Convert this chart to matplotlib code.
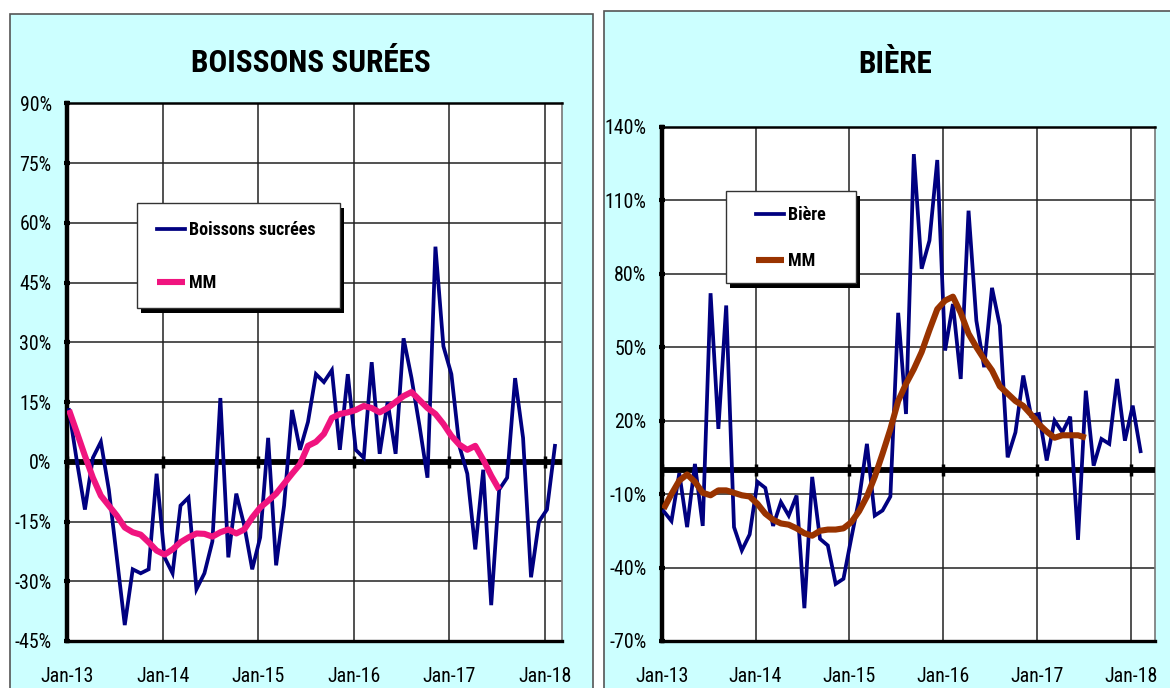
import numpy as np
import matplotlib
matplotlib.use("Agg")
import matplotlib.pyplot as plt
from matplotlib.patches import Rectangle
from matplotlib.ticker import FuncFormatter, FixedLocator

plt.rcParams['font.family'] = ['Liberation Sans Narrow', 'Roboto Condensed',
                               'Open Sans Condensed', 'Liberation Sans', 'DejaVu Sans']

# ---------------- data ----------------
year_labels = ["Jan-13", "Jan-14", "Jan-15", "Jan-16", "Jan-17", "Jan-18"]

boissons = [13, 0, -12, 1, 5, -7, -24, -41, -27, -28, -27, -3, -24, -28, -11, -9,
            -32, -28, -20, 16, -24, -8, -16, -27, -19, 6, -26, -11, 13, 3, 10, 22,
            20, 23, 3, 22, 3, 1, 25, 2, 15, 2, 31, 21, 9, -4, 54, 29, 22, 4, -3,
            -22, -2, -36, -7, -4, 21, 6, -29, -15, -12, 4]
boissons_mm = [13, 7.3, 1.5, -4, -8.5, -11, -13.5, -16.5, -17.7, -18.3, -20.2, -22.3,
               -23.3, -22, -20.2, -19, -18, -18.1, -18.8, -17.7, -17, -18, -17, -14,
               -11.5, -9.8, -8, -5.5, -3, -0.6, 4, 5, 7, 11, 12, 12.4, 13, 14, 13.5,
               12.4, 13.5, 15, 16.5, 17.5, 15.5, 13.5, 12, 9.5, 6.5, 4.3, 3, 4, 0.5,
               -3.5, -7]

biere = [-17, -21, -1.5, -23.5, 2.3, -23, 72, 16.6, 67, -23.5, -33, -26.5, -5, -7.5,
         -23, -13.3, -18.8, -10.6, -56.6, -3, -28.3, -31, -46.7, -44.6, -28, -12,
         10.5, -18.8, -16.7, -11, 64, 22.7, 128.8, 82, 93.5, 126.4, 48.6, 67.6, 37,
         105.7, 60.8, 41.8, 74.2, 58.8, 5, 15.2, 38.4, 22, 22.7, 3.7, 20, 15.2, 21.6,
         -28.7, 32.2, 1.6, 12.5, 10.5, 37, 11.8, 26.1, 7.5]
biere_mm = [-16, -10, -4.5, -2, -5, -9.5, -10.5, -8.5, -8.5, -9.5, -10.5, -11, -14,
            -18, -20.5, -22, -22.5, -24, -26, -27, -25, -24.5, -24.5, -24, -21.5, -17,
            -11, -3, 6.5, 16.5, 28, 35, 41, 48, 57, 65.5, 69, 70.6, 64, 55.5, 50, 45,
            40.5, 34, 31, 28, 26, 22.5, 18.5, 15.5, 13, 14, 14, 14, 13]

# ---------------- figure ----------------
W, H = 1170, 688
fig = plt.figure(figsize=(W / 100, H / 100), dpi=100)
fig.patch.set_facecolor("white")


def fx(px):
    return px / W


def fy(py):
    return 1 - py / H


# panel backgrounds (behind the axes)
for (x0, y0, x1, y1) in [(10, 14, 593, 700), (604, 11, 1180, 700)]:
    fig.patches.append(Rectangle((fx(x0), fy(y1)), fx(x1 - x0), (y1 - y0) / H,
                                 transform=fig.transFigure, facecolor="#CCFFFF",
                                 edgecolor="#555555", lw=1.2, zorder=-10))

TICK_FS = 14.3
NAVY = "#000080"


def setup_axes(rect, ylo, yhi, ystep, xmax, series, mm, mm_color, title, title_xy,
               leg_box, leg_anchor, leg_labels, leg_spacing):
    ax = fig.add_axes(rect)
    ax.set_zorder(1)
    ax.set_facecolor("white")
    x = np.arange(len(series))
    xm = np.arange(len(mm))
    ax.plot(x + 0.25, series, color=NAVY, lw=2.7, zorder=4, solid_joinstyle="miter",
            label=leg_labels[0])
    ax.plot(xm + 0.25, mm, color=mm_color, lw=4.4, zorder=5, solid_capstyle="butt",
            label=leg_labels[1])
    ax.axhline(0, color="black", lw=4.2, zorder=3)
    ax.set_xlim(0, xmax)
    ax.set_ylim(ylo, yhi)
    yt = np.arange(ylo, yhi + 0.1, ystep)
    ax.yaxis.set_major_locator(FixedLocator(yt))
    ax.yaxis.set_major_formatter(FuncFormatter(lambda v, p: f"{v:.0f}%"))
    xt = np.arange(0, 61, 12)
    ax.set_xticks(xt)
    ax.set_xticklabels(year_labels)
    ax.grid(True, color="#222222", lw=1.1, zorder=1)
    ax.set_axisbelow(True)
    ax.tick_params(axis="y", labelsize=TICK_FS, length=4, width=3, direction="inout",
                   pad=9, colors="black")
    ax.tick_params(axis="x", labelsize=TICK_FS, length=0, pad=19)
    # small ticks on zero line
    ax.plot(xt, np.zeros(len(xt)), ls="none", marker="|", ms=9, mew=2.5,
            color="black", zorder=3)
    ax.spines["left"].set_linewidth(3.2)
    ax.spines["bottom"].set_linewidth(2.4)
    ax.spines["top"].set_linewidth(1.8)
    ax.spines["right"].set_linewidth(1.2)
    ax.spines["right"].set_color("#777777")

    fig.text(fx(title_xy[0]), fy(title_xy[1]), title, ha="center", va="center",
             fontsize=22.5, fontweight="bold")

    # legend box with black shadow (drawn in the axes, above the data)
    bx0, by0, bx1, by1 = leg_box
    ax.add_patch(Rectangle((fx(bx0 + 4), fy(by1 + 5)), fx(bx1 - bx0), (by1 - by0) / H,
                           transform=fig.transFigure, facecolor="black",
                           edgecolor="black", lw=0, zorder=6, clip_on=False))
    ax.add_patch(Rectangle((fx(bx0), fy(by1)), fx(bx1 - bx0), (by1 - by0) / H,
                           transform=fig.transFigure, facecolor="white",
                           edgecolor="#333333", lw=1.0, zorder=7, clip_on=False))
    leg = ax.legend(loc="center left", bbox_to_anchor=(fx(leg_anchor[0]), fy(leg_anchor[1])),
                    bbox_transform=fig.transFigure, frameon=False, borderpad=0,
                    borderaxespad=0, handlelength=1.55, handletextpad=0.2,
                    labelspacing=leg_spacing, prop={"size": 13, "weight": "bold"})
    leg.set_zorder(8)
    return ax


# left chart
setup_axes([fx(67), fy(641), fx(561.7 - 67), (641 - 103.3) / H], -45, 90, 15, 62.1,
           boissons, boissons_mm, "#F0147F", "BOISSONS SURÉES", (311, 63),
           (137, 203, 340, 308), (157, 256.5), ["Boissons sucrées", "MM"], 1.95)

# right chart
setup_axes([fx(661.7), fy(641), fx(1155 - 661.7), (641 - 126.7) / H], -70, 140, 30, 63.1,
           biere, biere_mm, "#993300", "BIÈRE", (895, 64),
           (726, 191, 856, 283), (756, 238), ["Bière", "MM"], 1.57)

fig.savefig("out.png", dpi=100, facecolor=fig.get_facecolor())
